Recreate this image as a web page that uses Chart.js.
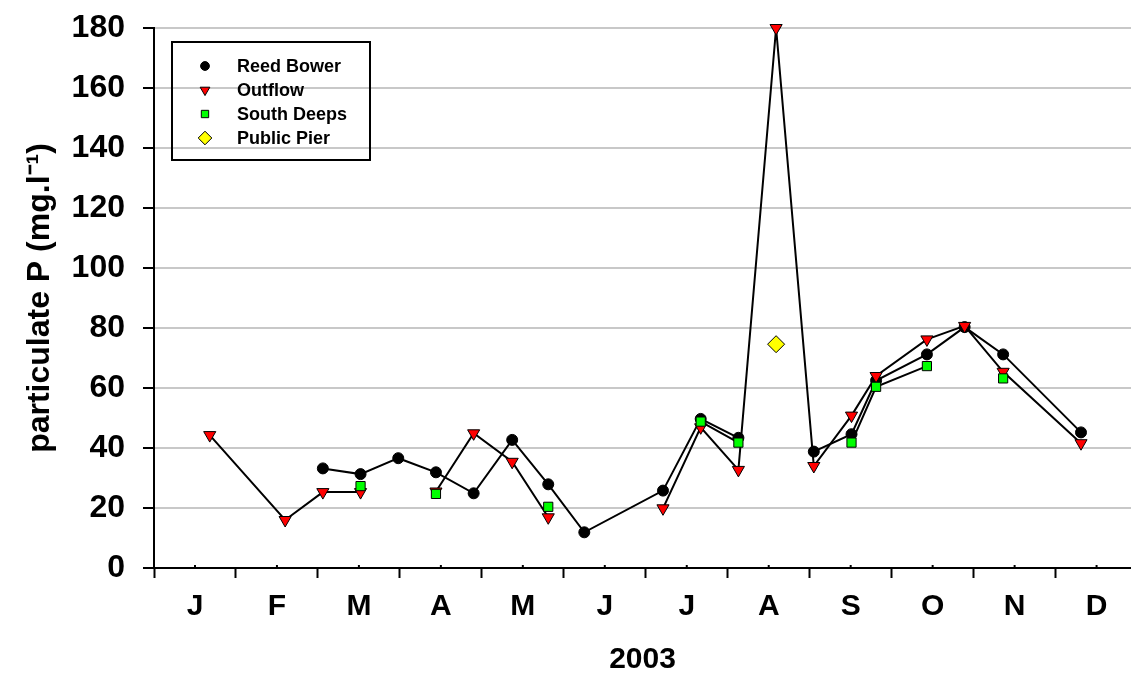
<!DOCTYPE html>
<html>
<head>
<meta charset="utf-8">
<script src="https://cdn.jsdelivr.net/npm/chart.js"></script>
<style>
  html, body { margin: 0; padding: 0; background: #fff; overflow: hidden; }
  #wrap { width: 1131px; height: 675px; }
  canvas { display: block; }
</style>
</head>
<body>
<div id="wrap"><canvas id="newChart"></canvas></div>
<script>
// sampling dates, in months since 1 Jan 2003
const sampleDates = [0.68, 1.60, 2.06, 2.52, 2.98, 3.44, 3.90, 4.37, 4.81, 5.25, 6.21,
    6.67, 7.13, 7.59, 8.05, 8.51, 8.81, 9.43, 9.89, 10.36, 11.31];

const reedBower = [null, null, 33.2, 31.3, 36.6, 31.9, 24.9, 42.7, 27.9, 11.9, 25.8,
    49.7, 43.4, null, 38.8, 44.6, 62.5, 71.2, 80.3, 71.2, 45.2];
const outflow = [44.3, 16.0, 25.3, 25.3, null, 25.5, 44.9, 35.4, 16.9, null, 19.9,
    46.9, 32.7, 180, 34.0, 50.8, 64.0, 76.2, 80.7, 65.4, 41.6];
const southDeeps = [null, null, null, 27.3, null, 24.7, null, null, 20.4, null, null,
    48.8, 41.8, null, null, 41.8, 60.4, 67.3, null, 63.2, null];
const publicPier = [null, null, null, null, null, null, null, null, null, null, null,
    null, null, 74.6, null, null, null, null, null, null, null];

const monthLabels = ["J", "F", "M", "A", "M", "J", "J", "A", "S", "O", "N", "D"];
const yTicks = [0, 20, 40, 60, 80, 100, 120, 140, 160, 180];

const FONT = "Arial, 'Liberation Sans', sans-serif";

function toPoints(values) {
    return sampleDates.map((d, i) => ({ x: d, y: values[i] }));
}

// boxed legend in the top left corner of the plot, plus the small mid-month ticks
const boxLegend = {
    id: "boxLegend",
    afterDraw(chart) {
        const { ctx, chartArea } = chart;
        const left = chartArea.left + 18;
        const top = chartArea.top + 14;
        ctx.save();
        ctx.lineWidth = 2;
        ctx.strokeStyle = "#000";
        ctx.strokeRect(left, top, 198, 118);
        chart.data.datasets.forEach((ds, i) => {
            const y = top + 24 + i * 24;
            ctx.fillStyle = ds.pointBackgroundColor;
            ctx.strokeStyle = "#000";
            ctx.lineWidth = 1;
            Chart.helpers.drawPoint(ctx, {
                pointStyle: ds.pointStyle,
                radius: ds.pointRadius * 0.8,
                rotation: ds.pointRotation || 0,
                borderWidth: 1,
            }, left + 33, y);
            ctx.fillStyle = "#000";
            ctx.font = "bold 18px " + FONT;
            ctx.textBaseline = "middle";
            ctx.textAlign = "left";
            ctx.fillText(ds.label, left + 65, y + 1);
        });
        const xs = chart.scales.x;
        ctx.strokeStyle = "#000";
        ctx.lineWidth = 2;
        for (let m = 0; m < 12; m++) {
            const px = xs.getPixelForValue(m + 0.5);
            if (px > chartArea.right) continue;
            ctx.beginPath();
            ctx.moveTo(px, chartArea.bottom - 3);
            ctx.lineTo(px, chartArea.bottom);
            ctx.stroke();
        }
        ctx.restore();
    },
};

const lineStyle = {
    borderColor: "#000",
    borderWidth: 2,
    pointBorderColor: "#000",
    pointBorderWidth: 1,
    spanGaps: false,
    clip: false,
};

const displayChart = new Chart(document.getElementById("newChart"), {
    type: "line",
    data: {
        datasets: [
            {
                ...lineStyle,
                label: "Reed Bower",
                data: toPoints(reedBower),
                pointStyle: "circle",
                pointRadius: 5.5,
                pointBackgroundColor: "#000",
                order: 3,
            },
            {
                ...lineStyle,
                label: "Outflow",
                data: toPoints(outflow),
                pointStyle: "triangle",
                pointRotation: 180,
                pointRadius: 7,
                pointBackgroundColor: "#ff0000",
                order: 2,
            },
            {
                ...lineStyle,
                label: "South Deeps",
                data: toPoints(southDeeps),
                pointStyle: "rect",
                pointRadius: 6.5,
                pointBackgroundColor: "#00ff00",
                order: 1,
            },
            {
                ...lineStyle,
                label: "Public Pier",
                data: toPoints(publicPier),
                showLine: false,
                pointStyle: "rectRot",
                pointRadius: 8.5,
                pointBackgroundColor: "#ffff00",
                order: 0,
            },
        ],
    },
    options: {
        responsive: true,
        maintainAspectRatio: false,
        animation: false,
        devicePixelRatio: 1,
        layout: { autoPadding: false, padding: { top: 28, right: 0, bottom: 0, left: 0 } },
        plugins: {
            legend: { display: false },
            tooltip: { enabled: false },
        },
        scales: {
            x: {
                type: "linear",
                min: 0,
                max: 11.92,
                afterBuildTicks: (scale) => {
                    scale.ticks = [];
                    for (let i = 0; i < 24; i++) scale.ticks.push({ value: i / 2 });
                },
                afterFit: (scale) => {
                    scale.height = 107;
                    scale.paddingLeft = 0;
                    scale.paddingRight = 0;
                },
                border: { display: true, color: "#000", width: 2 },
                grid: {
                    drawOnChartArea: false,
                    drawTicks: true,
                    tickLength: 10,
                    tickWidth: 2,
                    tickColor: (c) => (c.tick && c.tick.value % 1 === 0 ? "#000" : "rgba(0,0,0,0)"),
                },
                ticks: {
                    autoSkip: false,
                    maxRotation: 0,
                    padding: 11,
                    color: "#000",
                    font: { family: FONT, size: 30, weight: "bold" },
                    callback: (v) => (v % 1 === 0.5 ? monthLabels[Math.floor(v)] : ""),
                },
                title: {
                    display: true,
                    text: "2003",
                    color: "#000",
                    padding: { top: 0, bottom: -3 },
                    font: { family: FONT, size: 30, weight: "bold" },
                },
            },
            y: {
                min: 0,
                max: 180,
                afterBuildTicks: (scale) => {
                    scale.ticks = yTicks.map((v) => ({ value: v }));
                },
                afterFit: (scale) => {
                    scale.width = 154;
                    scale.paddingTop = 0;
                    scale.paddingBottom = 0;
                },
                border: { display: true, color: "#000", width: 2 },
                grid: {
                    color: "#c8c8c8",
                    lineWidth: 2,
                    tickLength: 11,
                    tickColor: "#000",
                    tickWidth: 2,
                },
                ticks: {
                    padding: 18,
                    color: "#000",
                    font: { family: FONT, size: 32, weight: "bold" },
                },
                title: {
                    display: true,
                    text: "particulate P (mg.l\u207B\u00B9)",
                    color: "#000",
                    padding: { top: 21, bottom: 0 },
                    font: { family: FONT, size: 32, weight: "bold" },
                },
            },
        },
    },
    plugins: [boxLegend],
});
</script>
</body>
</html>
